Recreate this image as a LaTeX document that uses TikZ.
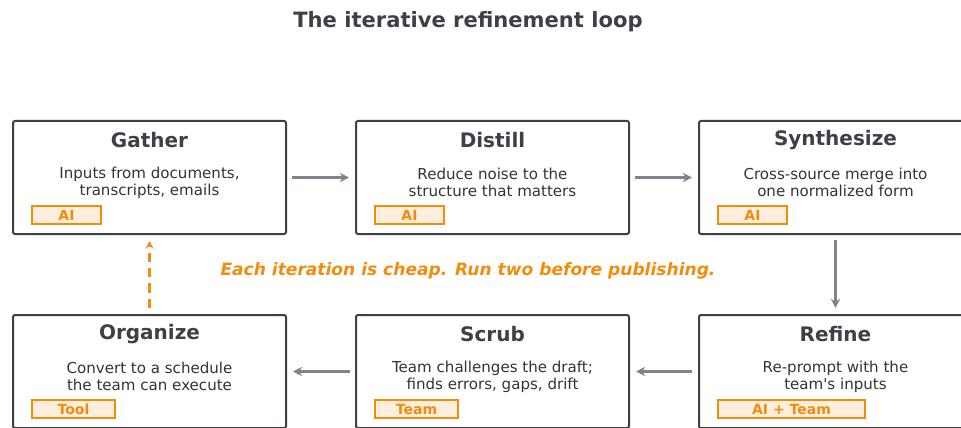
\documentclass[tikz,border=0pt]{standalone}
\usepackage{fontspec}
\setmainfont{DejaVu Sans}
\usetikzlibrary{arrows.meta}
\newcommand{\straightquote}{\XeTeXglyph\XeTeXglyphindex "quotesingle"\relax}
\definecolor{ink}{HTML}{3D4049}
\definecolor{body}{HTML}{333333}
\definecolor{arrowgray}{HTML}{7F838A}
\definecolor{tagorange}{HTML}{F28C0F}
\definecolor{tagfill}{HTML}{FDEEDD}
\begin{document}
\begin{tikzpicture}[x=0.75pt,y=-0.75pt,
  stepbox/.style={draw=ink,line width=1.5pt,rounded corners=1.5pt,minimum width=204.75pt,minimum height=84.75pt,inner sep=0pt},
  steptitle/.style={font=\bfseries\fontsize{15}{18}\selectfont,text=ink},
  stepbody/.style={font=\fontsize{11.3}{12.75}\selectfont,text=body,align=center},
  tagbox/.style={draw=tagorange,fill=tagfill,line width=0.8pt,minimum height=13.5pt,inner sep=0pt,font=\bfseries\fontsize{10.5}{12}\selectfont,text=tagorange},
  flow/.style={draw=arrowgray,line width=1.9pt,-{Stealth[length=7pt,width=7pt,inset=2.5pt]}},
  loopback/.style={draw=tagorange,line width=1.9pt,dash pattern=on 7pt off 4.5pt,-{Stealth[length=6pt,width=6pt,inset=2.5pt]}}]
\useasboundingbox (0,0) rectangle (961,428);
\node[font=\bfseries\fontsize{15.8}{18}\selectfont,text=ink] (title) at (468,21.5) {The iterative refinement loop};
% top row
\node[stepbox] (gather) at (149.5,177.5) {};
\node[stepbox] (distill) at (492.5,177.5) {};
\node[stepbox] (synth) at (835.5,177.5) {};
% bottom row
\node[stepbox] (organize) at (149.5,371.5) {};
\node[stepbox] (scrub) at (492.5,371.5) {};
\node[stepbox] (refine) at (835.5,371.5) {};
% titles
\node[steptitle] (t1) at (149.5,140.5) {Gather};
\node[steptitle] (t2) at (492.5,140.5) {Distill};
\node[steptitle] (t3) at (835.5,140.5) {Synthesize};
\node[steptitle] (t4) at (149.5,334.5) {Organize};
\node[steptitle] (t5) at (492.5,334.5) {Scrub};
\node[steptitle] (t6) at (835.5,334.5) {Refine};
% bodies
\node[stepbody] (b1) at (149.5,182.5) {Inputs from documents,\\transcripts, emails};
\node[stepbody] (b2) at (492.5,182.5) {Reduce noise to the\\structure that matters};
\node[stepbody] (b3) at (835.5,182.5) {Cross-source merge into\\one normalized form};
\node[stepbody] (b4) at (149.5,376.5) {Convert to a schedule\\the team can execute};
\node[stepbody] (b5) at (492.5,376.5) {Team challenges the draft;\\finds errors, gaps, drift};
\node[stepbody] (b6) at (835.5,376.5) {Re-prompt with the\\team\straightquote s inputs};
% tags
\node[tagbox,minimum width=51.75pt] (g1) at (66.5,215) {AI};
\node[tagbox,minimum width=51.75pt] (g2) at (409.5,215) {AI};
\node[tagbox,minimum width=51.75pt] (g3) at (752.5,215) {AI};
\node[tagbox,minimum width=62.25pt] (g4) at (73.5,409) {Tool};
\node[tagbox,minimum width=62.25pt] (g5) at (416.5,409) {Team};
\node[tagbox,minimum width=110.25pt] (g6) at (791.5,409) {AI + Team};
% caption
\node[font=\bfseries\itshape\fontsize{12.8}{15}\selectfont,text=tagorange] (cap) at (468,270.5) {Each iteration is cheap. Run two before publishing.};
% connectors
\draw[flow] ([xshift=3.75pt]gather.east) -- ([xshift=-4.5pt]distill.west);
\draw[flow] ([xshift=3.75pt]distill.east) -- ([xshift=-4.5pt]synth.west);
\draw[flow] ([yshift=-3.75pt]synth.south) -- ([yshift=4.5pt]refine.north);
\draw[flow] ([xshift=-4.5pt]refine.west) -- ([xshift=4.5pt]scrub.east);
\draw[flow] ([xshift=-3.75pt]scrub.west) -- ([xshift=4.5pt]organize.east);
\draw[loopback] ([yshift=4.5pt]organize.north) -- ([yshift=-4.5pt]gather.south);
\end{tikzpicture}
\end{document}
